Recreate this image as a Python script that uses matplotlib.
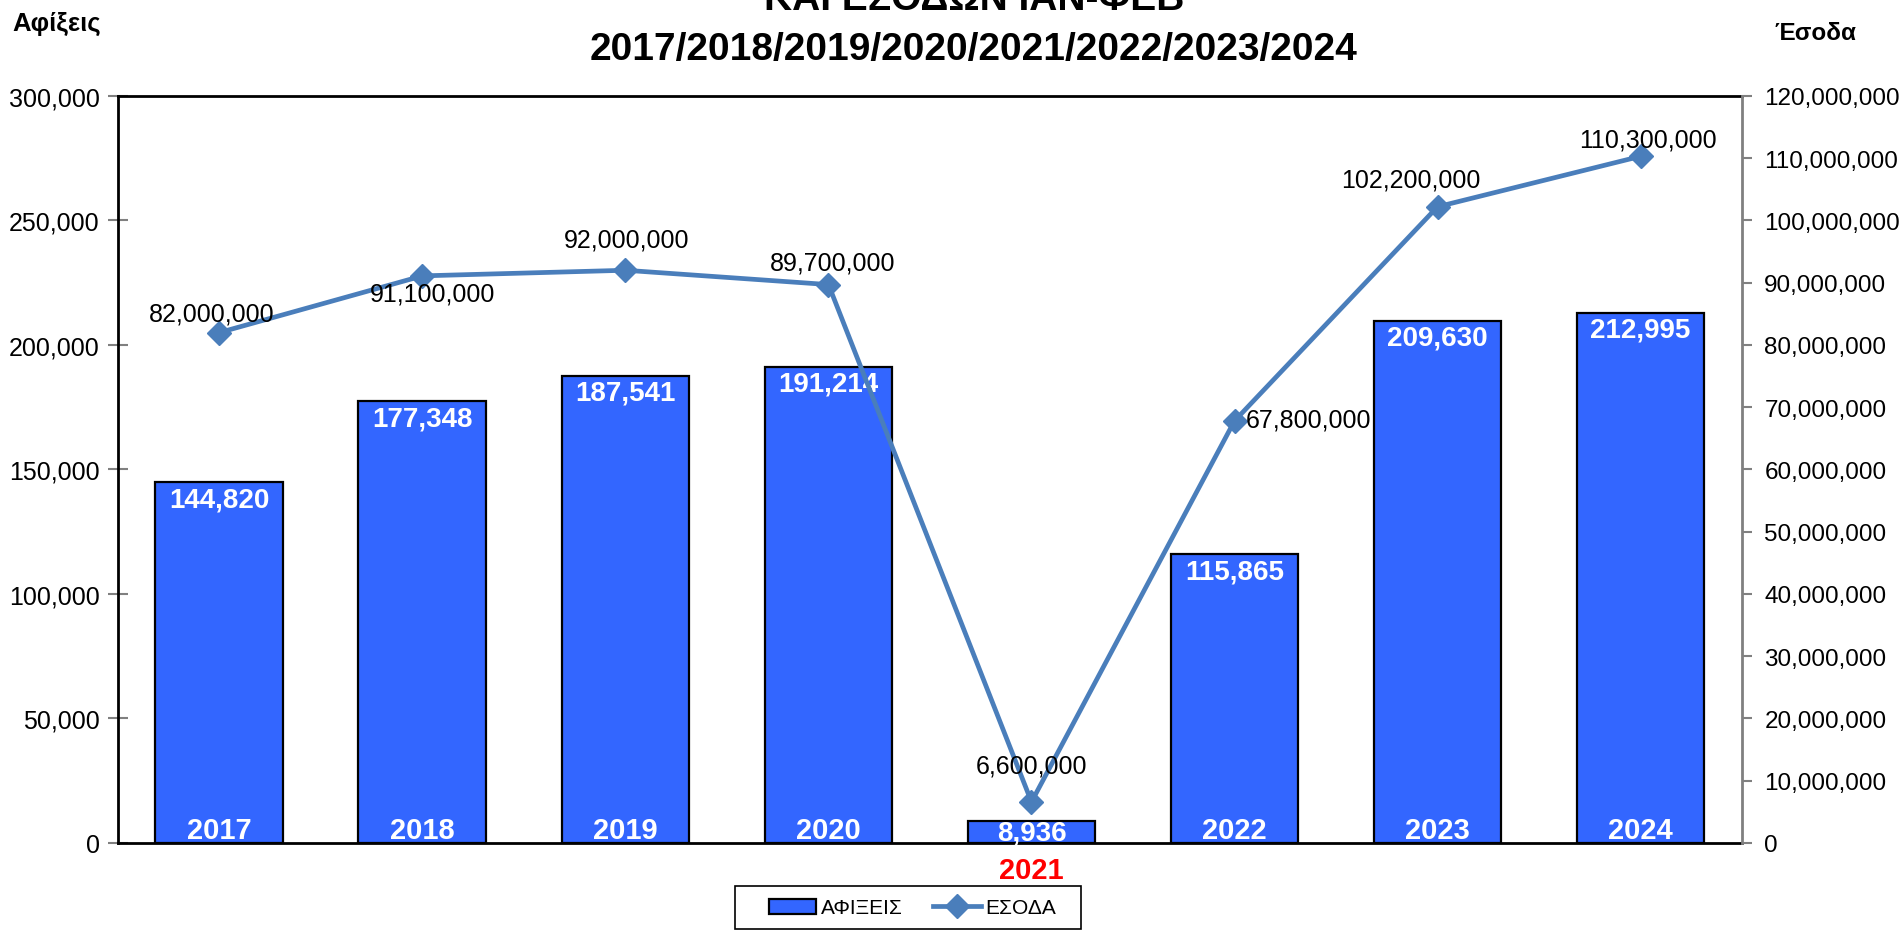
import matplotlib
matplotlib.use("Agg")
import matplotlib.pyplot as plt
from matplotlib.ticker import FuncFormatter, MultipleLocator
from matplotlib.patches import Rectangle

plt.rcParams['font.family'] = ['Liberation Sans', 'DejaVu Sans']

years = ["2017", "2018", "2019", "2020", "2021", "2022", "2023", "2024"]
arrivals = [144820, 177348, 187541, 191214, 8936, 115865, 209630, 212995]
revenue = [82000000, 91100000, 92000000, 89700000, 6600000, 67800000, 102200000, 110300000]
# label offsets (pixels) for the revenue labels
rev_offsets = [(-8, 19), (10, -18), (1, 31), (4, 22), (0, 36), (74, 1), (-27, 27), (7, 17)]

bar_color = '#3366FF'
line_color = '#4A7EBB'

W, H = 1902, 945
fig = plt.figure(figsize=(W / 100, H / 100), dpi=100)
ax = fig.add_axes([0.0620, 0.1069, 0.9159 - 0.0620, 0.8974 - 0.1069])
ax2 = ax.twinx()

x = list(range(len(years)))
bars = ax.bar(x, arrivals, width=0.63, color=bar_color, edgecolor='black',
              linewidth=1.6, label='ΑΦΙΞΕΙΣ', zorder=2)
ax.set_xlim(-0.5, len(years) - 0.5)
ax.set_ylim(0, 300000)
ax.yaxis.set_major_locator(MultipleLocator(50000))
ax.yaxis.set_major_formatter(FuncFormatter(lambda v, p: f"{int(v):,}"))
ax.set_xticks([])

ax2.set_ylim(0, 120000000)
ax2.yaxis.set_major_locator(MultipleLocator(10000000))
ax2.yaxis.set_major_formatter(FuncFormatter(lambda v, p: f"{int(v):,}"))
line, = ax2.plot(x, revenue, color=line_color, linewidth=3.4, marker='D',
                 markersize=12, label='ΕΣΟΔΑ', zorder=3)

for s in ['left', 'top', 'bottom']:
    ax.spines[s].set_color('black')
    ax.spines[s].set_linewidth(2)
    ax2.spines[s].set_visible(False)
ax.spines['right'].set_visible(False)
ax2.spines['right'].set_color('#808080')
ax2.spines['right'].set_linewidth(2)

ax.tick_params(axis='y', direction='inout', length=14, width=1.5, color='#808080',
               labelsize=18, pad=6)
ax2.tick_params(axis='y', direction='out', length=7, width=1.5, color='#808080',
                labelsize=17.5, pad=9)

# bar value labels and year labels
for i, (yr, v) in enumerate(zip(years, arrivals)):
    off = -12 if v < 20000 else -17
    ax.annotate(f"{v:,}", (i, v), xytext=(0, off), textcoords='offset pixels',
                ha='center', va='center', color='white', fontsize=20,
                fontweight='bold', zorder=5)
    if v < 20000:
        ax.annotate(yr, (i, 0), xytext=(0, -27), textcoords='offset pixels',
                    ha='center', va='center', color='red', fontsize=21,
                    fontweight='bold', annotation_clip=False)
    else:
        ax.annotate(yr, (i, 0), xytext=(0, 13), textcoords='offset pixels',
                    ha='center', va='center', color='white', fontsize=21,
                    fontweight='bold', zorder=5)

# revenue labels
for i, (v, (dx, dy)) in enumerate(zip(revenue, rev_offsets)):
    ax2.annotate(f"{v:,}", (i, v), xytext=(dx, dy), textcoords='offset pixels',
                 ha='center', va='center', color='black', fontsize=18, zorder=6)

# titles
fig.text(974 / W, 1 - 50 / H, "2017/2018/2019/2020/2021/2022/2023/2024",
         ha='center', va='center', fontsize=28, fontweight='bold')
fig.text(974 / W, 1 - 10 / H, "ΚΑΙ ΕΣΟΔΩΝ ΙΑΝ-ΦΕΒ",
         ha='center', va='baseline', fontsize=28, fontweight='bold')
fig.text(12 / W, 1 - 24 / H, "Αφίξεις", ha='left', va='center',
         fontsize=18.5, fontweight='bold')
fig.text(1815 / W, 1 - 33 / H, "Έσοδα", ha='center', va='center',
         fontsize=17.5, fontweight='bold')

leg = fig.legend(handles=[bars, line], labels=['ΑΦΙΞΕΙΣ', 'ΕΣΟΔΑ'],
                 loc='center', bbox_to_anchor=(912 / W, 1 - 909 / H),
                 ncol=2, fontsize=15, frameon=False,
                 handlelength=2.3, columnspacing=1.45,
                 borderpad=0.3, handletextpad=0.2)
fig.patches.append(Rectangle((735 / W, 1 - 930 / H), (1081 - 735) / W, (930 - 887) / H,
                             transform=fig.transFigure, facecolor='none',
                             edgecolor='black', linewidth=1.2))

fig.savefig("out.png", dpi=100)
